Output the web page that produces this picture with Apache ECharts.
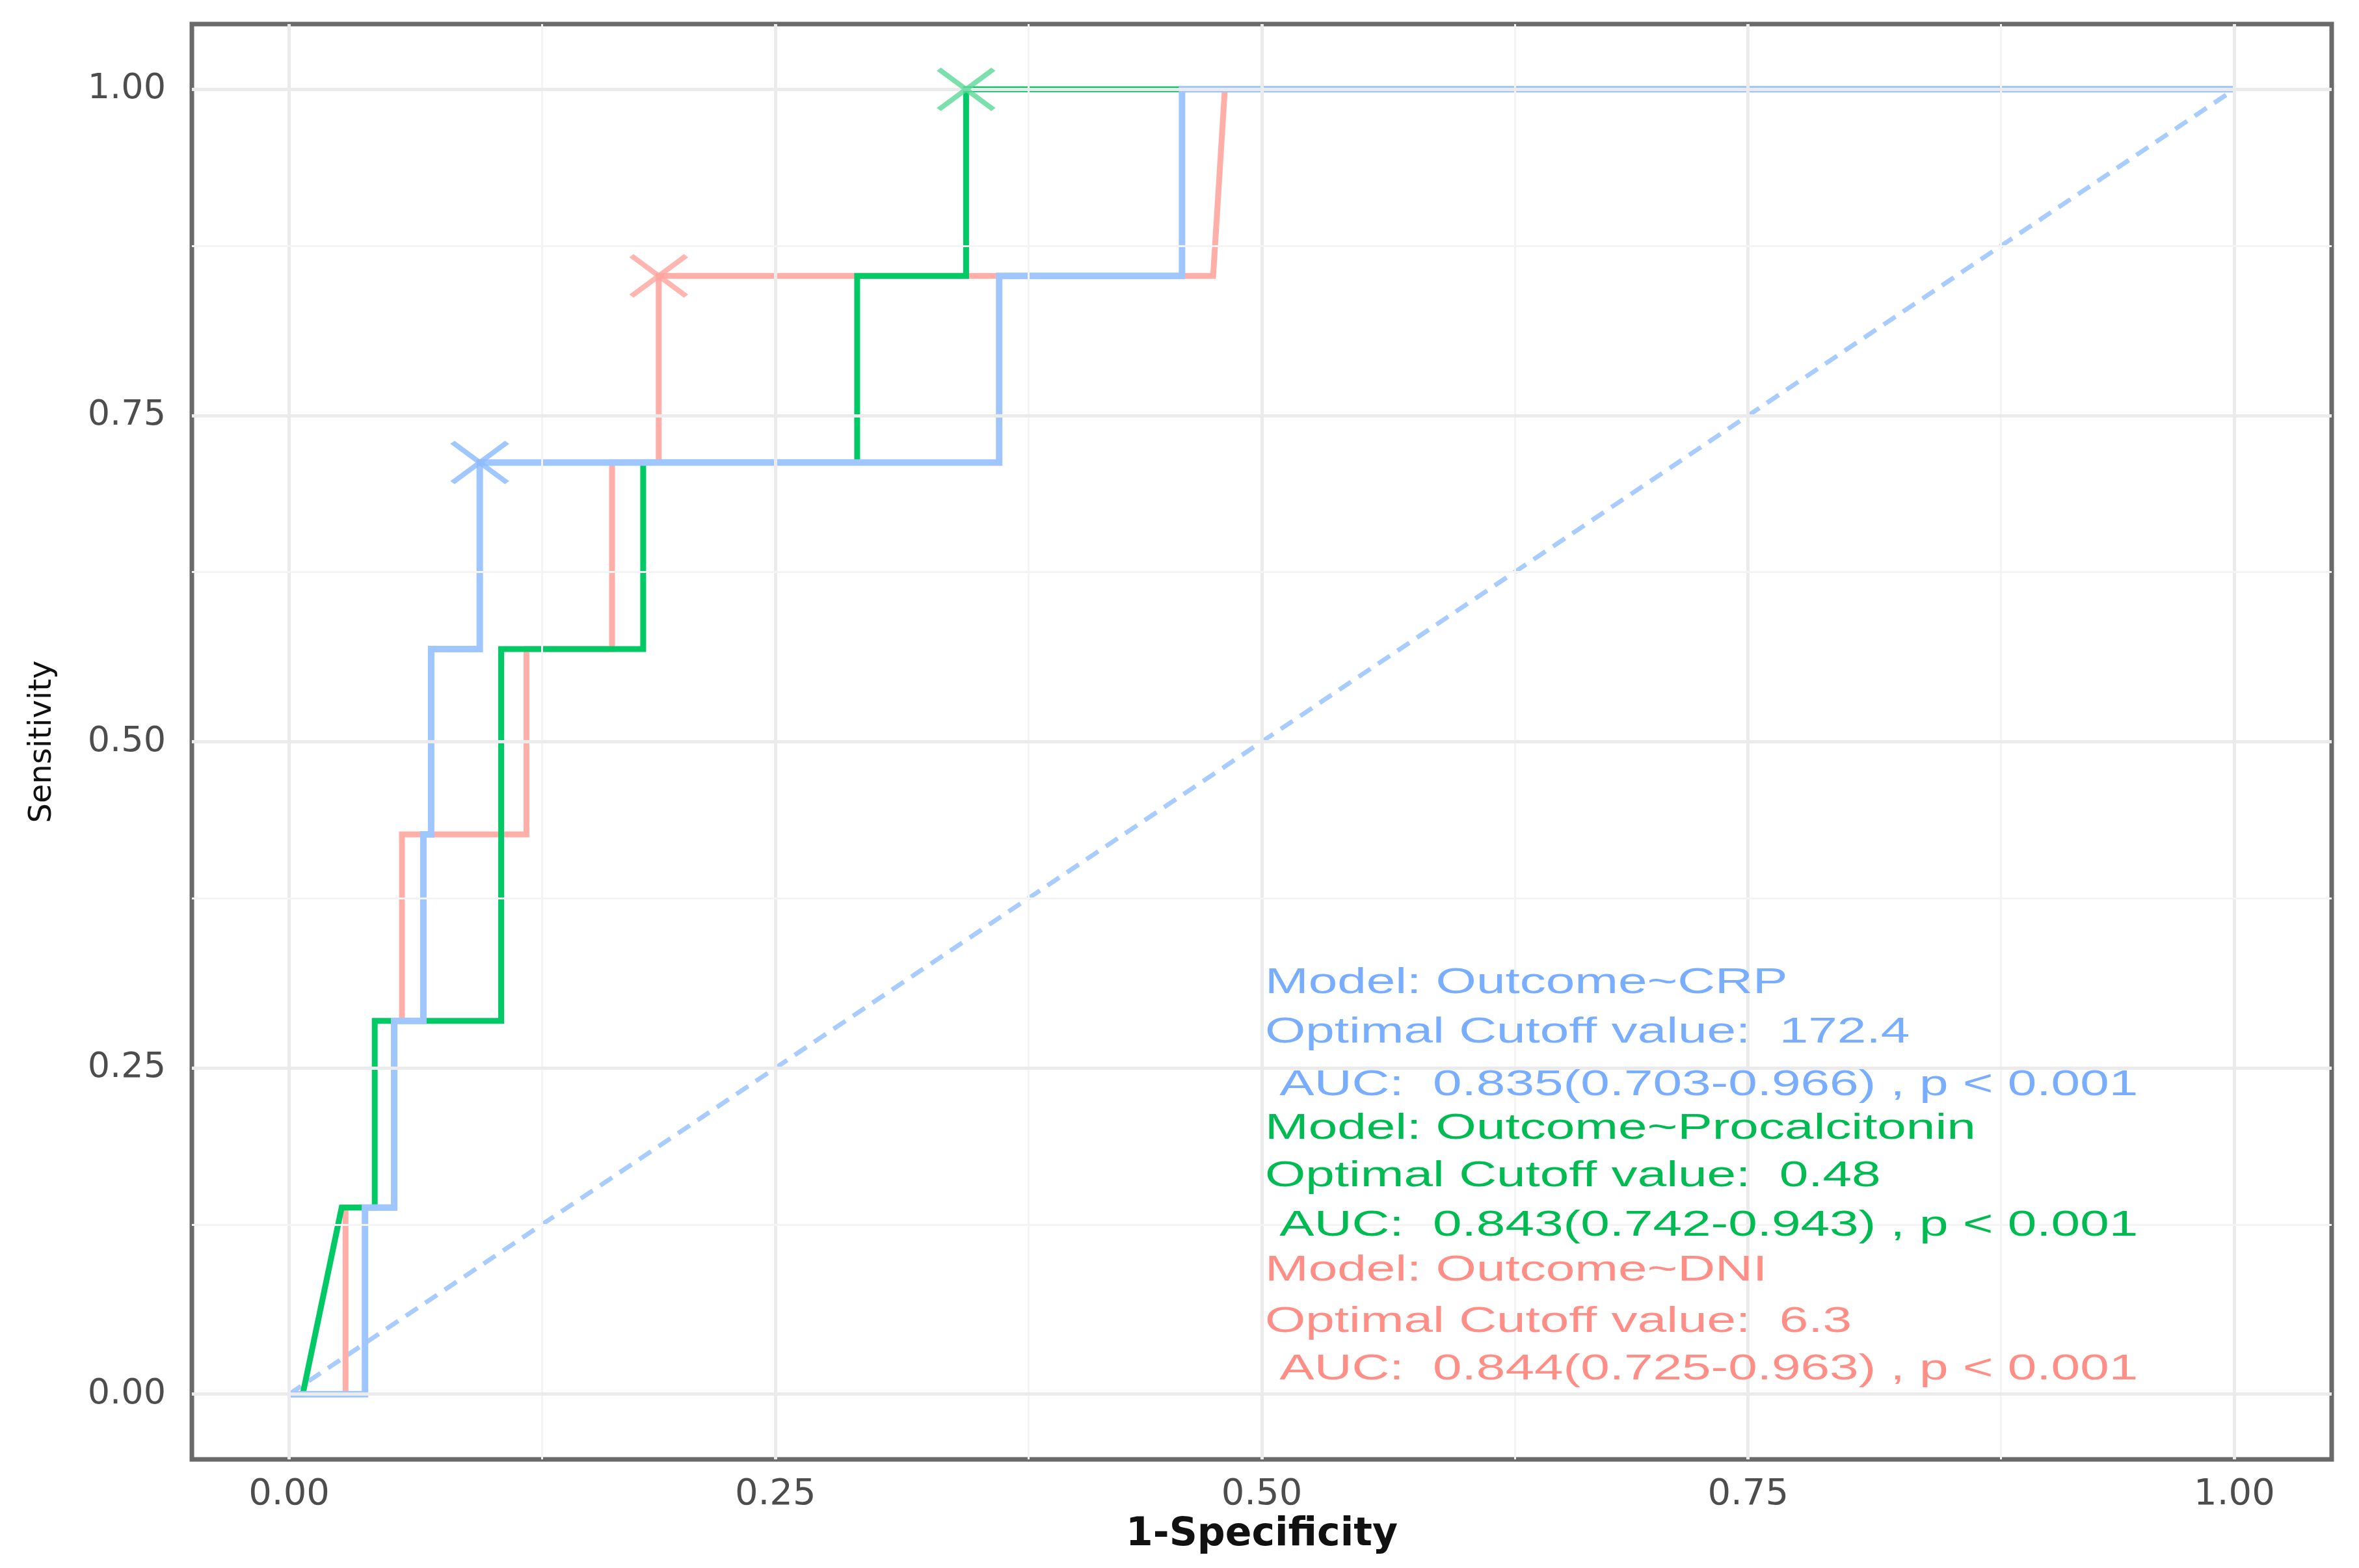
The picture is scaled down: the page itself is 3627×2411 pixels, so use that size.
<!DOCTYPE html>
<html>
<head>
<meta charset="UTF-8">
<title>ROC</title>
<script src="https://cdn.jsdelivr.net/npm/echarts@6/dist/echarts.min.js"></script>
<style type="text/css">
html, body { margin: 0; padding: 0; background: #fff; }
#chartmain { width: 3627px; height: 2411px; }
</style>
</head>
<body>
<div id="chartmain"></div>
<script type="text/javascript">
// ROC curves (x = 1-specificity, y = sensitivity)
var crpFpr = [0, 0.039, 0.039, 0.054, 0.054, 0.069, 0.069, 0.073, 0.073, 0.098, 0.098, 0.365, 0.365, 0.459, 0.459, 1];
var crpTpr = [0, 0, 0.143, 0.143, 0.286, 0.286, 0.429, 0.429, 0.571, 0.571, 0.714, 0.714, 0.857, 0.857, 1, 1];

var pctFpr = [0, 0.007, 0.027, 0.044, 0.044, 0.109, 0.109, 0.182, 0.182, 0.292, 0.292, 0.348, 0.348, 1];
var pctTpr = [0, 0, 0.143, 0.143, 0.286, 0.286, 0.571, 0.571, 0.714, 0.714, 0.857, 0.857, 1, 1];

var dniFpr = [0, 0.029, 0.029, 0.054, 0.054, 0.058, 0.058, 0.122, 0.122, 0.166, 0.166, 0.190, 0.190, 0.475, 0.481, 1];
var dniTpr = [0, 0, 0.143, 0.143, 0.286, 0.286, 0.429, 0.429, 0.571, 0.571, 0.714, 0.714, 0.857, 0.857, 1, 1];

// optimal cutoff points (x marks)
var crpCut = [0.098, 0.714];
var pctCut = [0.348, 1];
var dniCut = [0.190, 0.857];

var refLine = [[0, 0], [1, 1]];

var tickValues = [0, 0.25, 0.5, 0.75, 1];
var minorValues = [0.125, 0.375, 0.625, 0.875];

var crpText = ['Model: Outcome~CRP', 'Optimal Cutoff value:  172.4', ' AUC:  0.835(0.703-0.966) , p < 0.001'];
var pctText = ['Model: Outcome~Procalcitonin', 'Optimal Cutoff value:  0.48', ' AUC:  0.843(0.742-0.943) , p < 0.001'];
var dniText = ['Model: Outcome~DNI', 'Optimal Cutoff value:  6.3', ' AUC:  0.844(0.725-0.963) , p < 0.001'];

var BLUE = '#9fc6ff', GREEN = '#00c965', PINK = '#ffaea8';

function zip(xs, ys) {
    var out = [];
    for (var i = 0; i < xs.length; i++) out.push([xs[i], ys[i]]);
    return out;
}

// grid lines as markLines (axis runs from -0.05 to 1.05 like ggplot)
function gridLines(key) {
    var d = [];
    tickValues.forEach(function (v) {
        var o = { lineStyle: { color: '#ebebeb', width: 5, type: 'solid' } }; o[key] = v; d.push(o);
    });
    minorValues.forEach(function (v) {
        var o = { lineStyle: { color: '#f4f4f4', width: 3, type: 'solid' } }; o[key] = v; d.push(o);
    });
    return d;
}

function crossSeries(pt, col) {
    return {
        type: 'scatter',
        data: [pt],
        symbol: 'path://M0,0L84,62M84,0L0,62',
        symbolSize: [84, 62],
        itemStyle: { color: 'rgba(0,0,0,0)', borderColor: col, borderWidth: 8 },
        z: 10
    };
}

function curve(name, xs, ys, col, w, z) {
    return {
        name: name,
        type: 'line',
        data: zip(xs, ys),
        showSymbol: false,
        symbol: 'none',
        lineStyle: { color: col, width: w, join: 'miter' },
        z: z
    };
}

var textLines = [
    [crpText[0], '#78adff'], [crpText[1], '#78adff'], [crpText[2], '#78adff'],
    [pctText[0], '#00bb52'], [pctText[1], '#00bb52'], [pctText[2], '#00bb52'],
    [dniText[0], '#ff8e87'], [dniText[1], '#ff8e87'], [dniText[2], '#ff8e87']
];
var textY = [1512, 1588, 1669, 1736, 1809, 1885, 1954, 2033, 2106];
var graphics = textLines.map(function (t, i) {
    return {
        type: 'text',
        x: 1945,
        y: textY[i],
        scaleX: 1.43,
        style: {
            text: t[0],
            fill: t[1],
            font: '56px "Liberation Sans", Arial, sans-serif',
            textAlign: 'left', textVerticalAlign: 'middle',
            align: 'left', verticalAlign: 'middle'
        },
        z: 100
    };
});

var mychart = echarts.init(document.getElementById('chartmain'));
var myoption = {
    animation: false,
    backgroundColor: '#ffffff',
    grid: {
        left: 295, right: 42, top: 37, bottom: 167,
        show: true, borderColor: '#6a6a6a', borderWidth: 7,
        backgroundColor: 'transparent',
        outerBoundsMode: 'none'
    },
    xAxis: {
        type: 'value', min: -0.05, max: 1.05,
        name: '1-Specificity', nameLocation: 'middle', nameGap: 82,
        nameTextStyle: { fontFamily: 'DejaVu Sans', fontWeight: 'bold', fontSize: 60, color: '#111' },
        axisLine: { show: false },
        splitLine: { show: false },
        axisTick: { show: true, customValues: tickValues, length: 22, lineStyle: { color: '#555', width: 5 } },
        axisLabel: {
            customValues: tickValues, margin: 26,
            fontFamily: 'DejaVu Sans', fontSize: 56, color: '#4d4d4d',
            formatter: function (v) { return v.toFixed(2); }
        }
    },
    yAxis: {
        type: 'value', min: -0.05, max: 1.05,
        name: 'Sensitivity', nameLocation: 'middle', nameGap: 205,
        nameTextStyle: { fontFamily: 'DejaVu Sans', fontSize: 48, color: '#111' },
        axisLine: { show: false },
        splitLine: { show: false },
        axisTick: { show: true, customValues: tickValues, length: 22, lineStyle: { color: '#555', width: 5 } },
        axisLabel: {
            customValues: tickValues, margin: 40,
            fontFamily: 'DejaVu Sans', fontSize: 54, color: '#4d4d4d',
            formatter: function (v) { return v.toFixed(2); }
        }
    },
    series: [
        {
            type: 'line', data: [], silent: true, z: 0,
            markLine: { silent: true, symbol: ['none', 'none'], label: { show: false }, data: gridLines('xAxis').concat(gridLines('yAxis')) }
        },
        {
            type: 'line', data: refLine, showSymbol: false, symbol: 'none', z: 1,
            lineStyle: { color: '#a9ccff', width: 7, type: [22, 14] }
        },
        curve('DNI', dniFpr, dniTpr, PINK, 9, 2),
        curve('Procalcitonin', pctFpr, pctTpr, GREEN, 9, 3),
        curve('CRP', crpFpr, crpTpr, BLUE, 10, 4),
        crossSeries(dniCut, '#ffa39c'),
        crossSeries(pctCut, '#5ad897'),
        crossSeries(crpCut, '#8ab9ff')
    ],
    graphic: graphics
};
mychart.setOption(myoption);
</script>
</body>
</html>
